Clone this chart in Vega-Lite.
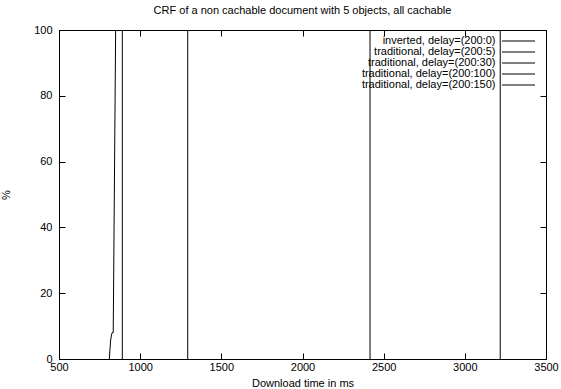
{
  "$schema": "https://vega.github.io/schema/vega-lite/v6.json",
  "width": 487,
  "height": 329,
  "autosize": "none",
  "padding": {"left": 59, "top": 30, "right": 15, "bottom": 30},
  "background": "white",
  "config": {
    "font": "Liberation Sans",
    "view": {"stroke": "black", "strokeWidth": 1},
    "axis": {
      "grid": false,
      "domainColor": "black",
      "tickColor": "black",
      "tickSize": -6,
      "labelColor": "black",
      "titleColor": "black",
      "labelFontSize": 11,
      "titleFontSize": 11,
      "titleFontWeight": "normal",
      "labelFont": "Liberation Sans",
      "titleFont": "Liberation Sans"
    },
    "title": {"font": "Liberation Sans", "fontSize": 11, "fontWeight": "normal", "color": "black"}
  },
  "title": {"text": "CRF of a non cachable document with 5 objects, all cachable", "offset": 8, "anchor": "middle"},
  "data": {
    "values": [
      {"series": "inverted, delay=(200:0)", "i": 0, "t": 810, "p": 0},
      {"series": "inverted, delay=(200:0)", "i": 1, "t": 814, "p": 3},
      {"series": "inverted, delay=(200:0)", "i": 2, "t": 818, "p": 5.5},
      {"series": "inverted, delay=(200:0)", "i": 3, "t": 823, "p": 7.3},
      {"series": "inverted, delay=(200:0)", "i": 4, "t": 828, "p": 8},
      {"series": "inverted, delay=(200:0)", "i": 5, "t": 834, "p": 8},
      {"series": "inverted, delay=(200:0)", "i": 6, "t": 849, "p": 100},
      {"series": "traditional, delay=(200:5)", "i": 0, "t": 890, "p": 0},
      {"series": "traditional, delay=(200:5)", "i": 1, "t": 890, "p": 100},
      {"series": "traditional, delay=(200:30)", "i": 0, "t": 1293, "p": 0},
      {"series": "traditional, delay=(200:30)", "i": 1, "t": 1293, "p": 100},
      {"series": "traditional, delay=(200:100)", "i": 0, "t": 2416, "p": 0},
      {"series": "traditional, delay=(200:100)", "i": 1, "t": 2416, "p": 100},
      {"series": "traditional, delay=(200:150)", "i": 0, "t": 3218, "p": 0},
      {"series": "traditional, delay=(200:150)", "i": 1, "t": 3218, "p": 100}
    ]
  },
  "layer": [
    {
      "mark": {"type": "line", "strokeWidth": 1, "clip": true},
      "encoding": {
        "x": {"field": "t", "type": "quantitative", "scale": {"domain": [500, 3500], "nice": false, "zero": false},
              "axis": {"title": "Download time in ms", "format": "d", "values": [500, 1000, 1500, 2000, 2500, 3000, 3500], "labelPadding": 8, "titlePadding": 5, "labelFlush": false}},
        "y": {"field": "p", "type": "quantitative", "scale": {"domain": [0, 100], "nice": false},
              "axis": {"title": "%", "format": "d", "values": [0, 20, 40, 60, 80, 100], "labelPadding": 13, "titlePadding": 22, "titleAngle": -90, "labelFlush": false}},
        "order": {"field": "i", "type": "quantitative"},
        "color": {
          "field": "series", "type": "nominal",
          "scale": {
            "domain": ["inverted, delay=(200:0)", "traditional, delay=(200:5)", "traditional, delay=(200:30)", "traditional, delay=(200:100)", "traditional, delay=(200:150)"],
            "range": ["black", "black", "black", "black", "black"]
          },
          "legend": {
            "title": null,
            "orient": "none",
            "legendX": 443,
            "legendY": 5,
            "padding": 0,
            "symbolType": "M-3,0H3",
            "symbolSize": 121,
            "symbolStrokeWidth": 1,
            "symbolOffset": 10.5,
            "labelAlign": "right",
            "labelOffset": -29,
            "labelFontSize": 11,
            "labelColor": "black",
            "rowPadding": 0,
            "labelLimit": 0
          }
        }
      }
    },
    {
      "mark": {"type": "line", "opacity": 0},
      "encoding": {
        "x": {"field": "t", "type": "quantitative",
              "axis": {"orient": "top", "title": null, "labels": false, "values": [500, 1000, 1500, 2000, 2500, 3000, 3500]}},
        "y": {"field": "p", "type": "quantitative",
              "axis": {"orient": "right", "title": null, "labels": false, "values": [0, 20, 40, 60, 80, 100]}},
        "detail": {"field": "series"},
        "order": {"field": "i", "type": "quantitative"}
      }
    }
  ],
  "resolve": {"axis": {"x": "independent", "y": "independent"}}
}
